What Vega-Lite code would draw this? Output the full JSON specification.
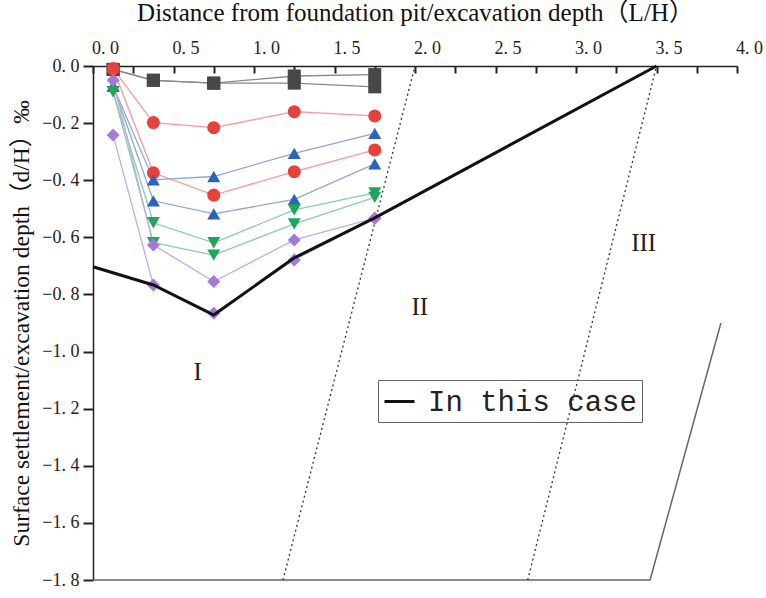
{
  "$schema": "https://vega.github.io/schema/vega-lite/v6.json",
  "width": 644,
  "height": 514,
  "autosize": {"type": "none"},
  "padding": {"left": 93, "top": 66, "right": 29, "bottom": 18},
  "background": "white",
  "config": {
    "view": {"stroke": null},
    "axis": {
      "labelFont": "Liberation Serif",
      "labelFontSize": 18,
      "labelColor": "#222222",
      "titleFont": "Liberation Serif, Noto Sans CJK SC",
      "titleFontWeight": "normal",
      "titleColor": "#111111",
      "domainColor": "#222222",
      "domainWidth": 1.5,
      "gridColor": "#ffffff"
    },
    "axisX": {"titleFontSize": 25, "titlePadding": 14},
    "axisY": {"titleFontSize": 23.5, "titlePadding": 8}
  },
  "datasets": {
    "series": [
      {"series": "g1", "group": "gray", "x": 0.125, "y": -0.012},
      {"series": "g1", "group": "gray", "x": 0.375, "y": -0.05},
      {"series": "g1", "group": "gray", "x": 0.75, "y": -0.06},
      {"series": "g1", "group": "gray", "x": 1.25, "y": -0.035},
      {"series": "g1", "group": "gray", "x": 1.75, "y": -0.03},
      {"series": "g2", "group": "gray", "x": 0.125, "y": -0.012},
      {"series": "g2", "group": "gray", "x": 0.375, "y": -0.05},
      {"series": "g2", "group": "gray", "x": 0.75, "y": -0.06},
      {"series": "g2", "group": "gray", "x": 1.25, "y": -0.06},
      {"series": "g2", "group": "gray", "x": 1.75, "y": -0.073},
      {"series": "r1", "group": "red", "x": 0.125, "y": -0.01},
      {"series": "r1", "group": "red", "x": 0.375, "y": -0.198},
      {"series": "r1", "group": "red", "x": 0.75, "y": -0.216},
      {"series": "r1", "group": "red", "x": 1.25, "y": -0.16},
      {"series": "r1", "group": "red", "x": 1.75, "y": -0.175},
      {"series": "r2", "group": "red", "x": 0.125, "y": -0.01},
      {"series": "r2", "group": "red", "x": 0.375, "y": -0.374},
      {"series": "r2", "group": "red", "x": 0.75, "y": -0.452},
      {"series": "r2", "group": "red", "x": 1.25, "y": -0.37},
      {"series": "r2", "group": "red", "x": 1.75, "y": -0.294},
      {"series": "b1", "group": "blue", "x": 0.125, "y": -0.07},
      {"series": "b1", "group": "blue", "x": 0.375, "y": -0.399},
      {"series": "b1", "group": "blue", "x": 0.75, "y": -0.387},
      {"series": "b1", "group": "blue", "x": 1.25, "y": -0.306},
      {"series": "b1", "group": "blue", "x": 1.75, "y": -0.236},
      {"series": "b2", "group": "blue", "x": 0.125, "y": -0.07},
      {"series": "b2", "group": "blue", "x": 0.375, "y": -0.472},
      {"series": "b2", "group": "blue", "x": 0.75, "y": -0.518},
      {"series": "b2", "group": "blue", "x": 1.25, "y": -0.467},
      {"series": "b2", "group": "blue", "x": 1.75, "y": -0.343},
      {"series": "gr1", "group": "green", "x": 0.125, "y": -0.09},
      {"series": "gr1", "group": "green", "x": 0.375, "y": -0.549},
      {"series": "gr1", "group": "green", "x": 0.75, "y": -0.619},
      {"series": "gr1", "group": "green", "x": 1.25, "y": -0.504},
      {"series": "gr1", "group": "green", "x": 1.75, "y": -0.444},
      {"series": "gr2", "group": "green", "x": 0.125, "y": -0.09},
      {"series": "gr2", "group": "green", "x": 0.375, "y": -0.619},
      {"series": "gr2", "group": "green", "x": 0.75, "y": -0.662},
      {"series": "gr2", "group": "green", "x": 1.25, "y": -0.553},
      {"series": "gr2", "group": "green", "x": 1.75, "y": -0.46},
      {"series": "p1", "group": "purple", "x": 0.125, "y": -0.05},
      {"series": "p1", "group": "purple", "x": 0.375, "y": -0.627},
      {"series": "p1", "group": "purple", "x": 0.75, "y": -0.755},
      {"series": "p1", "group": "purple", "x": 1.25, "y": -0.609},
      {"series": "p1", "group": "purple", "x": 1.75, "y": -0.533},
      {"series": "p2", "group": "purple", "x": 0.125, "y": -0.242},
      {"series": "p2", "group": "purple", "x": 0.375, "y": -0.767},
      {"series": "p2", "group": "purple", "x": 0.75, "y": -0.866},
      {"series": "p2", "group": "purple", "x": 1.25, "y": -0.679},
      {"series": "p2", "group": "purple", "x": 1.75, "y": -0.533}
    ],
    "thiscase": [
      {"x": 0, "y": -0.703},
      {"x": 0.375, "y": -0.767},
      {"x": 0.75, "y": -0.872},
      {"x": 1.25, "y": -0.672},
      {"x": 1.75, "y": -0.532},
      {"x": 3.5, "y": 0}
    ],
    "dotted": [
      {"id": "a", "x": 2.0, "y": 0},
      {"id": "a", "x": 1.18, "y": -1.8},
      {"id": "b", "x": 3.5, "y": 0},
      {"id": "b", "x": 2.7, "y": -1.8}
    ],
    "boundary": [
      {"order": 1, "x": 0, "y": -1.8},
      {"order": 2, "x": 3.46, "y": -1.8},
      {"order": 3, "x": 3.9, "y": -0.9}
    ],
    "zones": [
      {"label": "I", "x": 0.65, "y": -1.07},
      {"label": "II", "x": 2.03, "y": -0.845},
      {"label": "III", "x": 3.42, "y": -0.62}
    ]
  },
  "layer": [
    {
      "data": {"name": "boundary"},
      "mark": {"type": "line", "color": "#666666", "strokeWidth": 1.5},
      "encoding": {
        "x": {
          "field": "x", "type": "quantitative",
          "scale": {"domain": [0, 4], "nice": false, "zero": false},
          "axis": {
            "orient": "top",
            "values": [0, 0.25, 0.5, 0.75, 1, 1.25, 1.5, 1.75, 2, 2.25, 2.5, 2.75, 3, 3.25, 3.5, 3.75, 4],
            "labelExpr": "round(datum.value*4) % 2 == 0 ? replace(format(datum.value, '.1f'), '.', '. ') : ''",
            "tickSize": -7,
            "tickColor": "#222222",
            "tickWidth": 2,
            "labelPadding": 16,
            "labelOffset": 12,
            "labelFlush": false,
            "title": "Distance from foundation pit/excavation depth（L/H）"
          }
        },
        "y": {
          "field": "y", "type": "quantitative",
          "scale": {"domain": [-1.8, 0], "nice": false, "zero": false},
          "axis": {
            "orient": "left",
            "values": [0, -0.1, -0.2, -0.3, -0.4, -0.5, -0.6, -0.7, -0.8, -0.9, -1.0, -1.1, -1.2, -1.3, -1.4, -1.5, -1.6, -1.7, -1.8],
            "labelExpr": "abs(round(datum.value*10)) % 2 == 0 ? replace(format(datum.value, '.1f'), '.', '. ') : ''",
            "tickSize": {"condition": {"test": "abs(round(datum.value*10)) % 2 == 0", "value": 10}, "value": 6},
            "tickColor": "#222222",
            "tickWidth": 2,
            "labelPadding": 4,
            "title": "Surface settlement/excavation depth（d/H）‰"
          }
        },
        "order": {"field": "order", "type": "quantitative"}
      }
    },
    {
      "data": {"name": "dotted"},
      "mark": {"type": "line", "color": "#333333", "strokeWidth": 1.3, "strokeDash": [2, 3]},
      "encoding": {
        "x": {"field": "x", "type": "quantitative"},
        "y": {"field": "y", "type": "quantitative"},
        "detail": {"field": "id"}
      }
    },
    {
      "data": {"name": "series"},
      "mark": {"type": "line", "strokeWidth": 1.3},
      "encoding": {
        "x": {"field": "x", "type": "quantitative"},
        "y": {"field": "y", "type": "quantitative"},
        "detail": {"field": "series"},
        "color": {
          "field": "group", "type": "nominal",
          "scale": {"domain": ["gray", "red", "blue", "green", "purple"], "range": ["#888888", "#f59a9a", "#8ea6de", "#86d0a4", "#c7a8ec"]},
          "legend": null
        }
      }
    },
    {
      "data": {"name": "series"},
      "mark": {"type": "point", "filled": true, "opacity": 1, "size": 170},
      "encoding": {
        "x": {"field": "x", "type": "quantitative"},
        "y": {"field": "y", "type": "quantitative"},
        "color": {
          "field": "group", "type": "nominal",
          "scale": {"domain": ["gray", "red", "blue", "green", "purple"], "range": ["#474747", "#e8403a", "#2d63b8", "#23a45c", "#a678d8"]},
          "legend": null
        },
        "shape": {
          "field": "group", "type": "nominal",
          "scale": {"domain": ["gray", "red", "blue", "green", "purple"], "range": ["square", "circle", "triangle-up", "triangle-down", "diamond"]},
          "legend": null
        }
      }
    },
    {
      "data": {"name": "thiscase"},
      "mark": {"type": "line", "strokeWidth": 3},
      "encoding": {
        "x": {"field": "x", "type": "quantitative"},
        "y": {"field": "y", "type": "quantitative"},
        "stroke": {
          "datum": "In this case",
          "scale": {"range": ["#111111"]},
          "legend": {
            "orient": "none",
            "legendX": 285,
            "legendY": 314,
            "title": null,
            "strokeColor": "#666666",
            "padding": 5,
            "symbolType": "stroke",
            "symbolStrokeWidth": 3,
            "symbolSize": 900,
            "symbolStrokeColor": "#111111",
            "labelFont": "Liberation Mono",
            "labelFontSize": 29,
            "labelLimit": 500,
            "labelColor": "#222222",
            "labelOffset": 12
          }
        }
      }
    },
    {
      "data": {"name": "zones"},
      "mark": {"type": "text", "font": "Liberation Serif", "fontSize": 25, "color": "#222222", "baseline": "middle", "align": "center"},
      "encoding": {
        "x": {"field": "x", "type": "quantitative"},
        "y": {"field": "y", "type": "quantitative"},
        "text": {"field": "label"}
      }
    }
  ],
  "resolve": {"scale": {"color": "independent", "shape": "independent"}}
}
